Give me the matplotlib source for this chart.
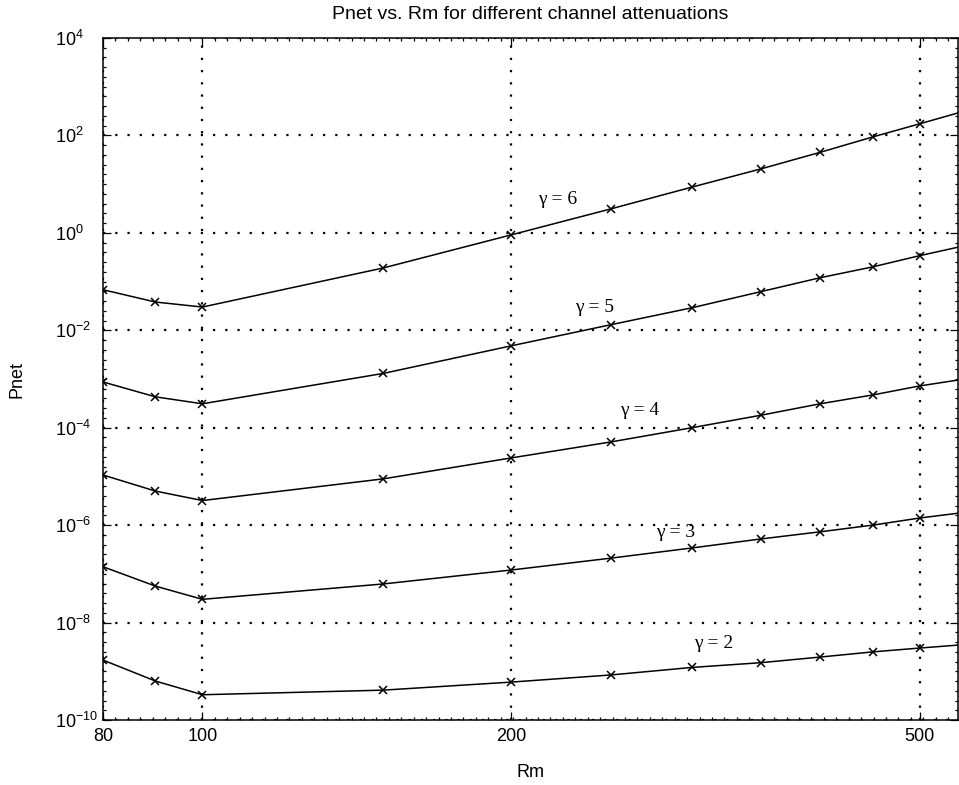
import numpy as np
import matplotlib
matplotlib.use("Agg")
import matplotlib.pyplot as plt
from matplotlib.ticker import FixedLocator, NullFormatter, LogFormatterSciNotation

plt.rcParams['font.family'] = ['Liberation Sans', 'DejaVu Sans']
plt.rcParams['mathtext.fontset'] = 'custom'
plt.rcParams['mathtext.rm'] = 'Liberation Sans'

# ---- data ----
rm = [80, 90, 100, 150, 200, 250, 300, 350, 400, 450, 500, 550]
pnet_g6 = [0.068, 0.038, 0.030, 0.19, 0.91, 3.1, 8.7, 20.5, 45, 93, 173, 306]
pnet_g5 = [8.7e-4, 4.3e-4, 3.1e-4, 1.3e-3, 4.8e-3, 0.013, 0.029, 0.062, 0.12, 0.20, 0.34, 0.53]
pnet_g4 = [1.07e-5, 5.0e-6, 3.2e-6, 8.9e-6, 2.4e-5, 5.1e-5, 1.0e-4, 1.8e-4, 3.1e-4, 4.7e-4, 7.2e-4, 9.8e-4]
pnet_g3 = [1.4e-7, 5.6e-8, 3.0e-8, 6.2e-8, 1.2e-7, 2.1e-7, 3.4e-7, 5.2e-7, 7.3e-7, 1.0e-6, 1.4e-6, 1.8e-6]
pnet_g2 = [1.7e-9, 6.3e-10, 3.3e-10, 4.1e-10, 6.0e-10, 8.4e-10, 1.2e-9, 1.5e-9, 1.96e-9, 2.5e-9, 3.0e-9, 3.5e-9]
series = [pnet_g6, pnet_g5, pnet_g4, pnet_g3, pnet_g2]
labels = ['γ = 6', 'γ = 5', 'γ = 4', 'γ = 3', 'γ = 2']
label_x = [222, 241, 267, 289, 315]
label_y = [4.8, 0.030, 2.3e-4, 6.9e-7, 3.8e-9]
x_ticks = [80, 100, 200, 500]
y_ticks = [1e-10, 1e-8, 1e-6, 1e-4, 1e-2, 1e0, 1e2, 1e4]

fig = plt.figure(figsize=(9.59, 7.85), dpi=100)
ax = fig.add_axes([103/959, 1-720/785, 855/959, (720-38)/785])

for ys in series:
    ax.plot(rm, ys, color='black', lw=1.1, marker='x', ms=6, mew=1.1,
            markevery=list(range(len(rm) - 1)))

for t, lx, ly in zip(labels, label_x, label_y):
    ax.text(lx, ly, t, ha='center', va='center', fontsize=14,
            family=['Liberation Serif', 'DejaVu Serif'])

ax.set_xscale('log')
ax.set_yscale('log')
ax.set_xlim(80, 545)
ax.set_ylim(1e-10, 1e4)

ax.xaxis.set_major_locator(FixedLocator(x_ticks))
ax.set_xticklabels([str(v) for v in x_ticks])
ax.xaxis.set_minor_locator(FixedLocator(10 ** np.arange(np.log10(80), np.log10(560), np.log10(1.25) / 8)))
ax.xaxis.set_minor_formatter(NullFormatter())
ax.yaxis.set_major_locator(FixedLocator(y_ticks))
ax.yaxis.set_major_formatter(LogFormatterSciNotation())
ax.yaxis.set_minor_locator(FixedLocator(10 ** np.arange(-10, 4.01, 0.2)))
ax.yaxis.set_minor_formatter(NullFormatter())

ax.tick_params(which='both', direction='in', top=True, right=True, labelsize=13, color='black')
ax.tick_params(which='major', length=6, width=0.9)
ax.tick_params(axis='x', which='major', pad=6)
ax.tick_params(axis='y', which='major', pad=34.5)
for lab in ax.get_yticklabels():
    lab.set_horizontalalignment('left')
ax.tick_params(which='minor', length=2.5, width=0.9)

ax.grid(True, which='major', color='black', linestyle=(0, (1, 4.5)), lw=1.6)
for s in ax.spines.values():
    s.set_linewidth(1.1)
    s.set_color('black')

ax.set_title('Pnet vs. Rm for different channel attenuations', fontsize=14, pad=14)
ax.set_xlabel('Rm', fontsize=13)
ax.set_ylabel('Pnet', fontsize=13)
ax.xaxis.set_label_coords(0.5, -0.0645)
ax.yaxis.set_label_coords(-0.0912, 0.5)

fig.savefig('out.png', dpi=100)
